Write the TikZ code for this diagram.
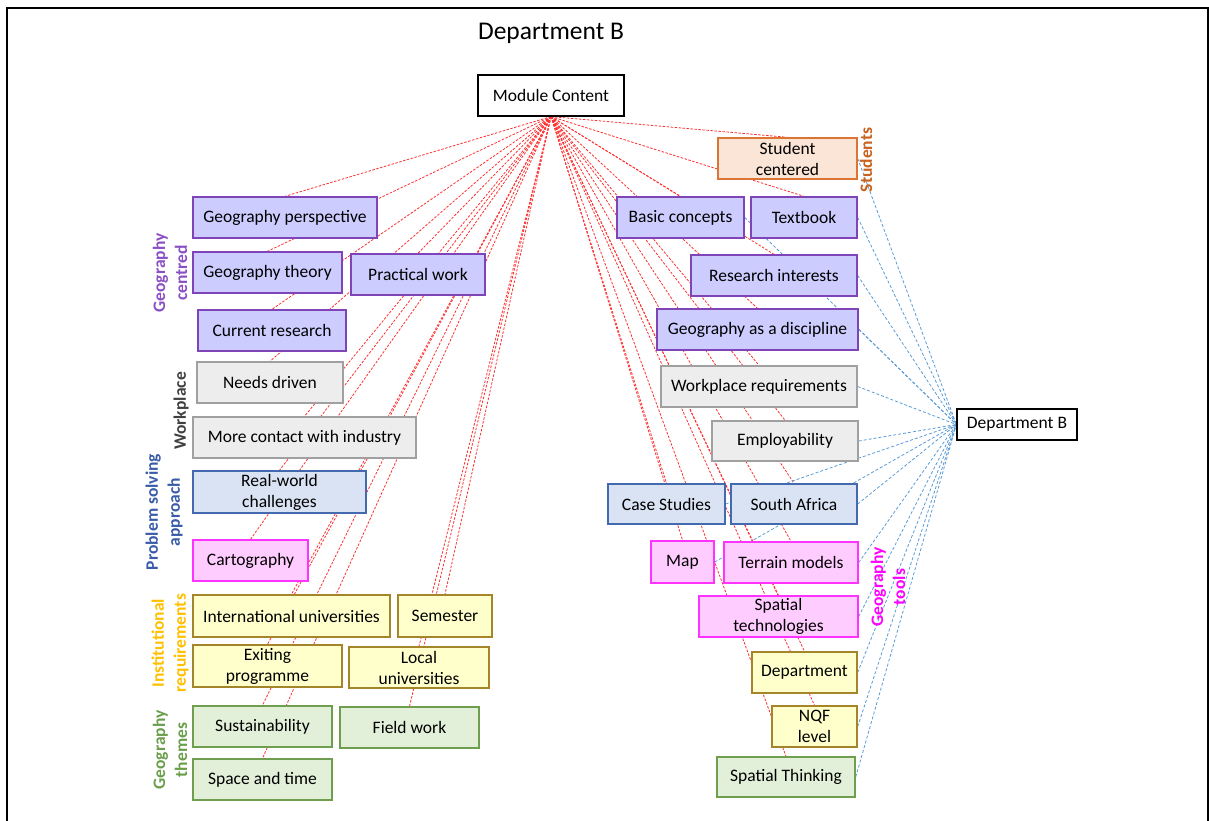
\documentclass[tikz,border=0pt]{standalone}
\usepackage{fontspec}
\setmainfont{Carlito}
\pgfdeclarelayer{bg}
\pgfsetlayers{bg,main}

% category colours
\definecolor{purpfill}{HTML}{CCCCFF}\definecolor{purpline}{HTML}{7F45B8}
\definecolor{grayfill}{HTML}{EDEDED}\definecolor{grayline}{HTML}{A0A0A0}
\definecolor{bluefill}{HTML}{DAE3F3}\definecolor{blueline}{HTML}{4369AE}
\definecolor{pinkfill}{HTML}{FFCCFF}\definecolor{pinkline}{HTML}{FF33FF}
\definecolor{yelfill}{HTML}{FFFFCC}\definecolor{yelline}{HTML}{A5852A}
\definecolor{grnfill}{HTML}{E2F0D9}\definecolor{grnline}{HTML}{6E9E4E}
\definecolor{orfill}{HTML}{FBE5D6}\definecolor{orline}{HTML}{DC7433}
\definecolor{labpurp}{HTML}{8A4FC4}
\definecolor{labgray}{HTML}{404040}
\definecolor{labblue}{HTML}{3A5CA8}
\definecolor{labgold}{HTML}{FFC000}
\definecolor{labgreen}{HTML}{6A9E4A}
\definecolor{laborange}{HTML}{C8621E}
\definecolor{labmag}{HTML}{FF00FF}
\definecolor{redlink}{HTML}{FF3030}
\definecolor{bluelink}{HTML}{5B9BD5}

\tikzset{
  base/.style={rectangle, draw, line width=1.4pt, inner sep=2pt, align=center,
    font=\fontsize{17.5}{21}\selectfont},
  hub/.style={base, draw=black, fill=white, line width=1.2pt},
  purpbox/.style={base, draw=purpline, fill=purpfill},
  graybox/.style={base, draw=grayline, fill=grayfill},
  bluebox/.style={base, draw=blueline, fill=bluefill},
  pinkbox/.style={base, draw=pinkline, fill=pinkfill},
  yelbox/.style={base, draw=yelline, fill=yelfill},
  grnbox/.style={base, draw=grnline, fill=grnfill},
  orbox/.style={base, draw=orline, fill=orfill},
  grouplabel/.style={rotate=90, align=center, inner sep=0pt,
    font=\fontsize{17.5}{22}\selectfont\bfseries},
  redlink/.style={draw=redlink, line width=0.8pt, dash pattern=on 2.5pt off 1.5pt},
  bluelinkst/.style={draw=bluelink, line width=0.8pt, dash pattern=on 3pt off 2pt},
}

% box given by its corners (x1,y1) and (x2,y2)
\newcommand{\boxnode}[7]{%
  \node[#6, minimum width={#4-#2}, minimum height={#5-#3}] (#1)
    at ({(#2+#4)/2},{(#3+#5)/2}) {#7};}

\begin{document}
\begin{tikzpicture}[x=1pt,y=-1pt]
\useasboundingbox (0,0) rectangle (1209,821);

% frame
\draw[line width=2.4pt] (7,821) -- (7,8) -- (1208,8) -- (1208,821);

\node[font=\fontsize{25.5}{30}\selectfont] (title) at (551,33.5) {Department B};

% hubs
\boxnode{mc}{478}{75}{624}{116}{hub}{Module Content}
\boxnode{db}{957}{409}{1077}{440}{hub}{Department B}

% left column
\boxnode{gp}{193}{197}{377}{238}{purpbox}{Geography perspective}
\boxnode{gt}{193}{252}{342}{293}{purpbox}{Geography theory}
\boxnode{pw}{351}{254}{485}{295}{purpbox}{Practical work}
\boxnode{cr}{198}{310}{346}{351}{purpbox}{Current research}
\boxnode{nd}{197}{362}{343}{403}{graybox}{Needs driven}
\boxnode{mci}{193}{417}{416}{458}{graybox}{More contact with industry}
\boxnode{rw}{193}{471}{366}{513}{bluebox}{Real-world\\challenges}
\boxnode{ca}{193}{540}{308}{581}{pinkbox}{Cartography}
\boxnode{iu}{193}{595}{390}{637}{yelbox}{International universities}
\boxnode{se}{398}{595}{492}{637}{yelbox}{Semester}
\boxnode{ep}{193}{645}{342}{687}{yelbox}{Exiting\\programme}
\boxnode{lu}{349}{647}{489}{688}{yelbox}{Local\\universities}
\boxnode{su}{193}{706}{332}{747}{grnbox}{Sustainability}
\boxnode{fw}{340}{707}{479}{748}{grnbox}{Field work}
\boxnode{sat}{193}{759}{332}{800}{grnbox}{Space and time}

% right column
\boxnode{sc}{718}{138}{857}{179}{orbox}{Student\\centered}
\boxnode{bc}{617}{197}{744}{238}{purpbox}{Basic concepts}
\boxnode{tb}{751}{197}{857}{238}{purpbox}{Textbook}
\boxnode{ri}{691}{255}{857}{296}{purpbox}{Research interests}
\boxnode{gd}{657}{309}{858}{350}{purpbox}{Geography as a discipline}
\boxnode{wr}{661}{366}{857}{407}{graybox}{Workplace requirements}
\boxnode{em}{712}{421}{858}{461}{graybox}{Employability}
\boxnode{cs}{608}{484}{725}{524}{bluebox}{Case Studies}
\boxnode{sa}{731}{484}{857}{524}{bluebox}{South Africa}
\boxnode{mp}{651}{541}{714}{583}{pinkbox}{Map}
\boxnode{tm}{724}{542}{858}{583}{pinkbox}{Terrain models}
\boxnode{stc}{699}{596}{858}{637}{pinkbox}{Spatial\\technologies}
\boxnode{de}{752}{652}{857}{693}{yelbox}{Department}
\boxnode{nq}{772}{706}{857}{747}{yelbox}{NQF\\level}
\boxnode{sth}{717}{757}{855}{797}{grnbox}{Spatial Thinking}

% group labels
\node[grouplabel, text=labpurp] (lgc) at (170,273) {Geography\\centred};
\node[grouplabel, text=labgray] (lwp) at (181,411) {Workplace};
\node[grouplabel, text=labblue] (lps) at (164,512) {Problem solving\\approach};
\node[grouplabel, text=labgold] (lir) at (170,643) {Institutional\\requirements};
\node[grouplabel, text=labgreen] (lgt) at (170,750) {Geography\\themes};
\node[grouplabel, text=laborange] (lst) at (866,160) {Students};
\node[grouplabel, text=labmag] (lgo) at (888,587) {Geography\\tools};

% connectors behind the boxes
\begin{pgfonlayer}{bg}
  \foreach \n in {gp,gt,pw,cr,nd,mci,rw,ca,iu,se,ep,lu,su,fw,sat,
                  sc,bc,tb,ri,gd,wr,em,cs,sa,mp,tm,stc,de,nq,sth}
    \draw[redlink] (mc.south) -- (\n.north);
  \foreach \n in {sc,bc,tb,ri,gd,wr,em,cs,sa,mp,tm,stc,de,nq,sth}
    \draw[bluelinkst] (\n.east) -- (db.west);
\end{pgfonlayer}
\end{tikzpicture}
\end{document}
